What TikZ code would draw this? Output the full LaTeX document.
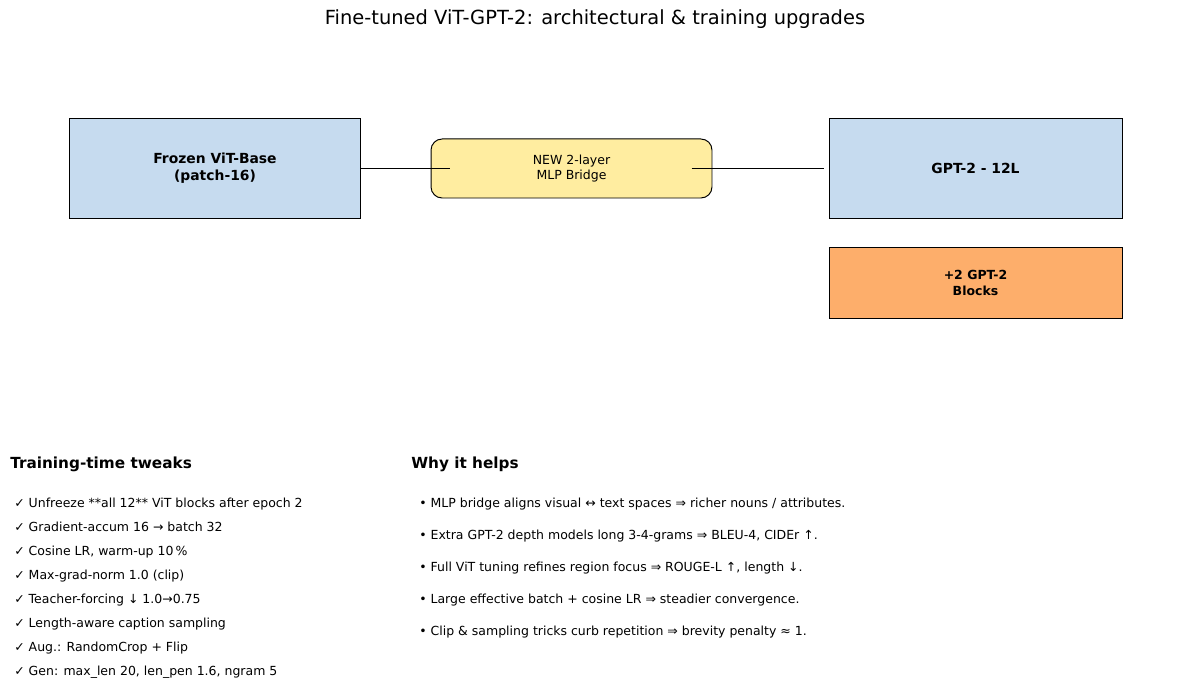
\documentclass[tikz,border=0pt]{standalone}
\usepackage{fontspec}
\setmainfont{DejaVu Sans}
\usepackage{tikz}
\definecolor{vitblue}{HTML}{C6DBEF}
\definecolor{bridgeyellow}{HTML}{FFEDA0}
\definecolor{blockorange}{HTML}{FDAE6B}
\newcommand{\fsz}[2]{\fontsize{#1}{#2}\selectfont}

\begin{document}
\begin{tikzpicture}[
  x=0.72pt, y=-0.72pt,
  block/.style={rectangle,draw=black,line width=0.7pt,align=center,inner sep=0pt},
  link/.style={draw=black,line width=0.7pt},
  heading/.style={anchor=base west,inner sep=0pt,font=\fsz{11}{13}\bfseries},
  item/.style={anchor=base west,inner sep=0pt,font=\fsz{9}{11}}
]
\useasboundingbox (0,0) rectangle (1189,687);
\node[anchor=base,inner sep=0pt,font=\fsz{14}{17}] (title) at (595,25)
  {Fine-tuned ViT-GPT-2: architectural \& training upgrades};

% architecture row
\node[block,fill=vitblue,minimum width=210.2pt,minimum height=72.7pt,
      font=\fsz{10}{12}\bfseries] (vit) at (215,168.5) {Frozen ViT-Base\\(patch-16)};
\node[block,fill=bridgeyellow,rounded corners=8pt,minimum width=202.3pt,
      minimum height=42.5pt,font=\fsz{9}{11}] (bridge) at (571.5,168.5) {NEW 2-layer\\MLP Bridge};
\node[block,fill=vitblue,minimum width=211pt,minimum height=72.7pt,
      font=\fsz{10}{12}\bfseries] (gpt) at (975.5,168.5) {GPT-2 - 12L};
\node[block,fill=blockorange,minimum width=211pt,minimum height=51.8pt,
      font=\fsz{9}{11}\bfseries] (extra) at (975.5,283) {+2 GPT-2\\Blocks};
\draw[link] (vit.east) -- ([xshift=14pt]bridge.west);
\draw[link] ([xshift=-15pt]bridge.east) -- ([xshift=-3pt]gpt.west);

% training tweaks
\node[heading] (tweakhead) at (10,468) {Training-time tweaks};
\node[item] (tw1) at (14,507) {✓ Unfreeze **all 12** ViT blocks after epoch 2};
\node[item] (tw2) at (14,531.1) {✓ Gradient-accum 16 → batch 32};
\node[item] (tw3) at (14,555.2) {✓ Cosine LR, warm-up 10\,\%};
\node[item] (tw4) at (14,579.3) {✓ Max-grad-norm 1.0 (clip)};
\node[item] (tw5) at (14,603.4) {✓ Teacher-forcing ↓ 1.0→0.75};
\node[item] (tw6) at (14,627.5) {✓ Length-aware caption sampling};
\node[item] (tw7) at (14,651.6) {✓ Aug.: RandomCrop + Flip};
\node[item] (tw8) at (14,675.7) {✓ Gen: max\_len 20, len\_pen 1.6, ngram 5};

% why it helps
\node[heading] (whyhead) at (411,468) {Why it helps};
\node[item] (why1) at (419,507) {• MLP bridge aligns visual ↔ text spaces ⇒ richer nouns / attributes.};
\node[item] (why2) at (419,539.2) {• Extra GPT-2 depth models long 3-4-grams ⇒ BLEU-4, CIDEr ↑.};
\node[item] (why3) at (419,571.4) {• Full ViT tuning refines region focus ⇒ ROUGE-L ↑, length ↓.};
\node[item] (why4) at (419,603.6) {• Large effective batch + cosine LR ⇒ steadier convergence.};
\node[item] (why5) at (419,635.8) {• Clip \& sampling tricks curb repetition ⇒ brevity penalty ≈ 1.};
\end{tikzpicture}
\end{document}
